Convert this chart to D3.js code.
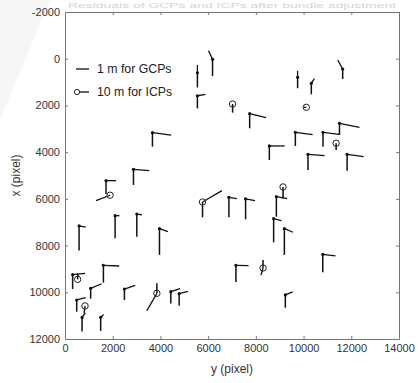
<!DOCTYPE html>
<html>
<head>
<meta charset="utf-8">
<script src="https://cdn.jsdelivr.net/npm/d3@7"></script>
<style>
  body { margin: 0; background: #fff; }
  svg { display: block; font-family: "Liberation Sans", Arial, sans-serif; }
</style>
</head>
<body>
<svg id="chart" width="418" height="383"></svg>
<script>
// residual vectors: [y pixel, x pixel, vertical residual, dy residual, dx residual]
const gcpPoints = [
  [5550, 600, 630, 0, -330], [6185, 25, 715, -170, -370], [5550, 1585, 545, 335, -55],
  [7740, 2355, 625, 685, 170], [9750, 795, 470, 0, -280], [10325, 1055, 470, 125, -200],
  [11640, 440, 430, -210, -385], [11505, 2765, 500, 840, 170], [3665, 3165, 600, 785, 110],
  [8565, 3735, 600, 645, 0], [9655, 3150, 585, 725, 100], [10815, 3150, 615, 685, 85],
  [10185, 4095, 670, 695, 55], [11825, 4095, 700, 695, 100], [2870, 4735, 670, 660, 55],
  [1720, 5220, 570, 420, 0], [6870, 5935, 855, 335, 55], [7570, 6005, 870, 395, 70],
  [8860, 5905, 855, 450, 85], [590, 7160, 1055, 280, 55], [2100, 6720, 970, 180, 0],
  [3010, 6650, 970, 210, 30], [3960, 7275, 1125, 355, 130], [8745, 6850, 1010, 325, 85],
  [9195, 7275, 1125, 365, 155], [10805, 8375, 770, 535, 70], [7165, 8845, 715, 530, 15],
  [1610, 8845, 740, 660, 30], [320, 9245, 615, 520, -55], [1075, 9830, 440, 460, -195],
  [2490, 9860, 470, 450, -155], [4435, 9975, 500, 390, -130], [4785, 10060, 515, 365, -100],
  [490, 10330, 500, 380, -100], [715, 11075, 600, 140, -190], [1495, 11070, 585, 125, -115],
  [9235, 10115, 545, 305, -130]
];
const icpPoints = [
  [7025, 1940, 370, 0, 0], [10115, 2080, 0, -110, 0], [11365, 3620, 285, 0, 0],
  [1890, 5845, 0, -590, 230], [5765, 6135, 655, 815, -485], [9140, 5490, 500, 0, 0],
  [8300, 8960, -340, -85, 300], [530, 9445, -255, 0, 0], [3850, 10045, -430, -420, 745],
  [840, 10585, 0, -40, 315]
];
const xTicks = [0, 2000, 4000, 6000, 8000, 10000, 12000, 14000];
const yTicks = [-2000, 0, 2000, 4000, 6000, 8000, 10000, 12000];
const legendLabels = ["1 m for GCPs", "10 m for ICPs"];

const svg = d3.select("#chart");
const mLeft = 65, mRight = 399, mTop = 12, mBottom = 339;

// faint watermark bits
svg.append("polygon").attr("points", "0,0 50,0 0,120").attr("fill", "#f6f6f6");
svg.append("text")
  .attr("x", 232).attr("y", 8)
  .attr("text-anchor", "middle")
  .attr("font-size", 7.5)
  .attr("textLength", 328)
  .attr("lengthAdjust", "spacingAndGlyphs")
  .attr("fill", "#d4d4d4")
  .text("Residuals of GCPs and ICPs after bundle adjustment");

const x = d3.scaleLinear().domain([0, 14000]).range([mLeft, mRight]);
const y = d3.scaleLinear().domain([-2000, 12000]).range([mTop, mBottom]);

svg.append("rect")
  .attr("x", mLeft).attr("y", mTop)
  .attr("width", mRight - mLeft).attr("height", mBottom - mTop)
  .attr("fill", "#fff");

const fmt = d => String(d);
function styleAxis(g) {
  g.select(".domain").attr("stroke", "#777");
  g.selectAll(".tick line").attr("stroke", "#777");
  g.selectAll("text").attr("fill", "#333").attr("font-size", 11)
    .attr("font-family", "Liberation Sans, Arial, sans-serif");
}

svg.append("g").attr("transform", `translate(0,${mBottom})`)
  .call(d3.axisBottom(x).tickValues(xTicks).tickFormat(fmt).tickSize(-3).tickPadding(5).tickSizeOuter(0))
  .call(styleAxis);
svg.append("g").attr("transform", `translate(0,${mTop})`)
  .call(d3.axisTop(x).tickValues(xTicks).tickFormat("").tickSize(-3).tickSizeOuter(0))
  .call(styleAxis);
svg.append("g").attr("transform", `translate(${mLeft},0)`)
  .call(d3.axisLeft(y).tickValues(yTicks).tickFormat(fmt).tickSize(-3).tickPadding(5).tickSizeOuter(0))
  .call(styleAxis);
svg.append("g").attr("transform", `translate(${mRight},0)`)
  .call(d3.axisRight(y).tickValues(yTicks).tickFormat("").tickSize(-3).tickSizeOuter(0))
  .call(styleAxis);

// axis titles
svg.append("text")
  .attr("x", (mLeft + mRight) / 2).attr("y", 373)
  .attr("text-anchor", "middle").attr("font-size", 12).attr("fill", "#333")
  .text("y (pixel)");
svg.append("text")
  .attr("transform", `translate(20,${(mTop + mBottom) / 2}) rotate(-90)`)
  .attr("text-anchor", "middle").attr("font-size", 12).attr("fill", "#333")
  .text("x (pixel)");

// residual vectors
const marks = svg.append("g");
const all = gcpPoints.concat(icpPoints);
all.forEach(d => {
  const [py, px, v, by, bx] = d;
  if (v !== 0) {
    marks.append("line")
      .attr("x1", x(py)).attr("y1", y(px))
      .attr("x2", x(py)).attr("y2", y(px + v))
      .attr("stroke", "#111").attr("stroke-width", 1.5);
  }
  if (by !== 0 || bx !== 0) {
    marks.append("line")
      .attr("x1", x(py)).attr("y1", y(px))
      .attr("x2", x(py + by)).attr("y2", y(px + bx))
      .attr("stroke", "#111").attr("stroke-width", 1.3);
  }
});
marks.selectAll(".gcp").data(gcpPoints).join("circle").attr("class", "gcp")
  .attr("cx", d => x(d[0])).attr("cy", d => y(d[1]))
  .attr("r", 1.6).attr("fill", "#111");
marks.selectAll(".icp").data(icpPoints).join("circle").attr("class", "icp")
  .attr("cx", d => x(d[0])).attr("cy", d => y(d[1]))
  .attr("r", 3.2).attr("fill", "none").attr("stroke", "#222").attr("stroke-width", 1);

// legend
const leg = svg.append("g");
legendLabels.forEach((t, i) => {
  const ly = 69 + i * 23;
  leg.append("line").attr("x1", 76).attr("x2", 89).attr("y1", ly).attr("y2", ly)
    .attr("stroke", "#111").attr("stroke-width", 1.3);
  if (i === 1) {
    leg.append("circle").attr("cx", 77).attr("cy", ly).attr("r", 2.6)
      .attr("fill", "#fff").attr("stroke", "#222").attr("stroke-width", 1);
  }
  leg.append("text").attr("x", 97).attr("y", ly + 4)
    .attr("font-size", 12.3).attr("fill", "#222").text(t);
});
</script>
</body>
</html>
